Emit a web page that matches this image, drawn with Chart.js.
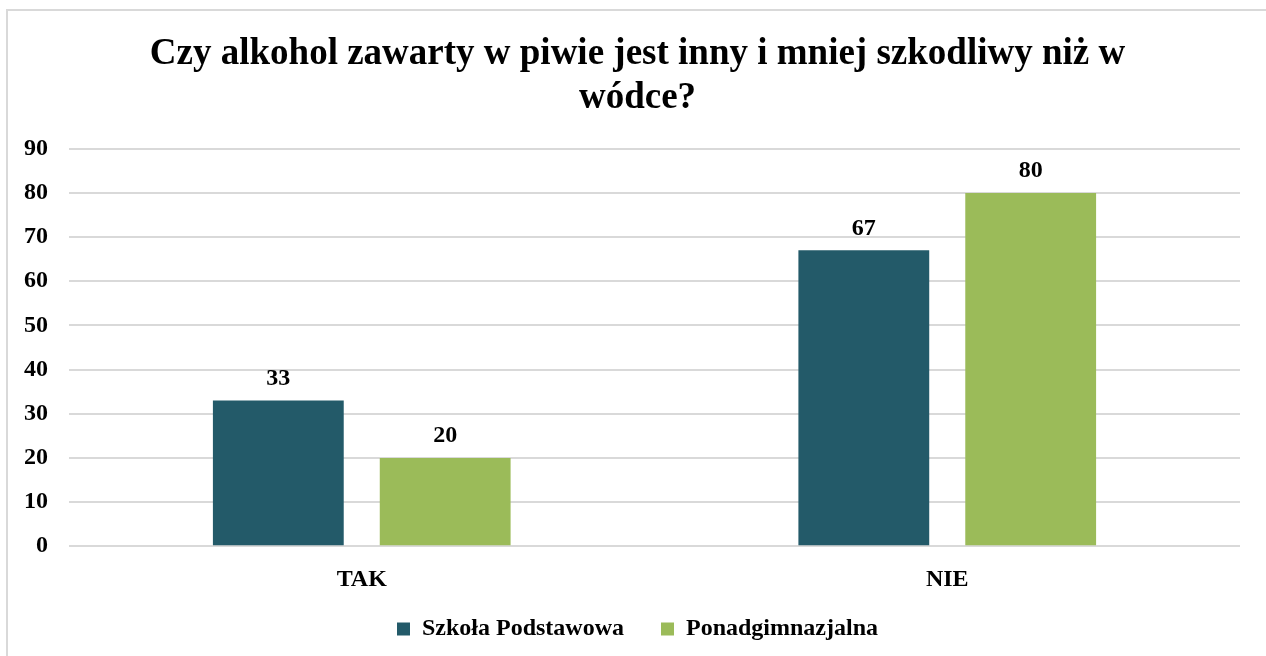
<!DOCTYPE html>
<html lang="pl">
<head>
    <meta charset="UTF-8">
    <title>Czy alkohol zawarty w piwie jest inny</title>
    <script src="https://cdn.jsdelivr.net/npm/chart.js"></script>
    <style>
        body {
            margin: 0;
            padding: 0;
            background-color: #ffffff;
            overflow: hidden;
        }
        .chart-box {
            position: absolute;
            left: 6px;
            top: 9px;
            width: 1262px;
            height: 650px;
            border: 2px solid #d9d9d9;
            background-color: white;
        }
        canvas {
            width: 100% !important;
            height: 100% !important;
        }
    </style>
</head>
<body>

    <div class="chart-box">
        <canvas id="chart"></canvas>
    </div>

    <script>
        const titleLines = ['Czy alkohol zawarty w piwie jest inny i mniej szkodliwy niż w', 'wódce?'];
        const categories = ['TAK', 'NIE'];
        const szkolaPodstawowa = [33, 67];
        const ponadgimnazjalna = [20, 80];

        const serif = '"Liberation Serif", "Times New Roman", serif';

        // draws the value above each bar
        const valueLabels = {
            id: 'valueLabels',
            afterDatasetsDraw(chart) {
                const ctx = chart.ctx;
                ctx.save();
                ctx.font = 'bold 24px ' + serif;
                ctx.fillStyle = '#000';
                ctx.textAlign = 'center';
                ctx.textBaseline = 'bottom';
                chart.data.datasets.forEach((ds, i) => {
                    chart.getDatasetMeta(i).data.forEach((bar, j) => {
                        ctx.fillText(ds.data[j], bar.x, bar.y - 10);
                    });
                });
                ctx.restore();
            }
        };

        // legend padding is wide between items, but the legend should not be that tall
        const legendShrink = 25;
        const tightLegend = {
            id: 'tightLegend',
            beforeInit(chart) {
                const fit = chart.legend.fit;
                chart.legend.fit = function () {
                    fit.call(this);
                    this.height -= legendShrink;
                };
            },
            afterLayout(chart) {
                chart.legend.top -= legendShrink;
            }
        };

        new Chart(document.getElementById('chart'), {
            type: 'bar',
            data: {
                labels: categories,
                datasets: [
                    {
                        label: 'Szkoła Podstawowa',
                        data: szkolaPodstawowa,
                        backgroundColor: '#235a69'
                    },
                    {
                        label: 'Ponadgimnazjalna',
                        data: ponadgimnazjalna,
                        backgroundColor: '#9bbb59'
                    }
                ]
            },
            options: {
                responsive: true,
                maintainAspectRatio: false,
                animation: false,
                categoryPercentage: 0.57,
                barPercentage: 0.784,
                layout: {
                    padding: { left: 0, right: 3, top: 0, bottom: 10 }
                },
                plugins: {
                    title: {
                        display: true,
                        text: titleLines,
                        color: '#000',
                        font: { family: serif, size: 37, weight: 'bold', lineHeight: 1.2 },
                        padding: { top: 21, bottom: 28 }
                    },
                    legend: {
                        position: 'bottom',
                        labels: {
                            color: '#000',
                            font: { family: serif, size: 24, weight: 'bold' },
                            boxWidth: 13,
                            boxHeight: 13,
                            padding: 37
                        }
                    },
                    tooltip: { enabled: false }
                },
                scales: {
                    x: {
                        grid: { display: false },
                        border: { display: false },
                        ticks: {
                            color: '#000',
                            font: { family: serif, size: 24, weight: 'bold' },
                            padding: 11
                        }
                    },
                    y: {
                        min: 0,
                        max: 90,
                        afterFit: scale => { scale.width = 61; },
                        ticks: {
                            stepSize: 10,
                            color: '#000',
                            font: { family: serif, size: 24, weight: 'bold' },
                            padding: 21
                        },
                        grid: {
                            color: '#d9d9d9',
                            lineWidth: 2,
                            drawTicks: false
                        },
                        border: { display: false }
                    },
                    // empty axis on the right, only keeps the margin
                    yRight: {
                        position: 'right',
                        afterFit: scale => { scale.width = 27; },
                        grid: { display: false },
                        border: { display: false },
                        ticks: { display: false }
                    }
                }
            },
            plugins: [valueLabels, tightLegend]
        });
    </script>

</body>
</html>
